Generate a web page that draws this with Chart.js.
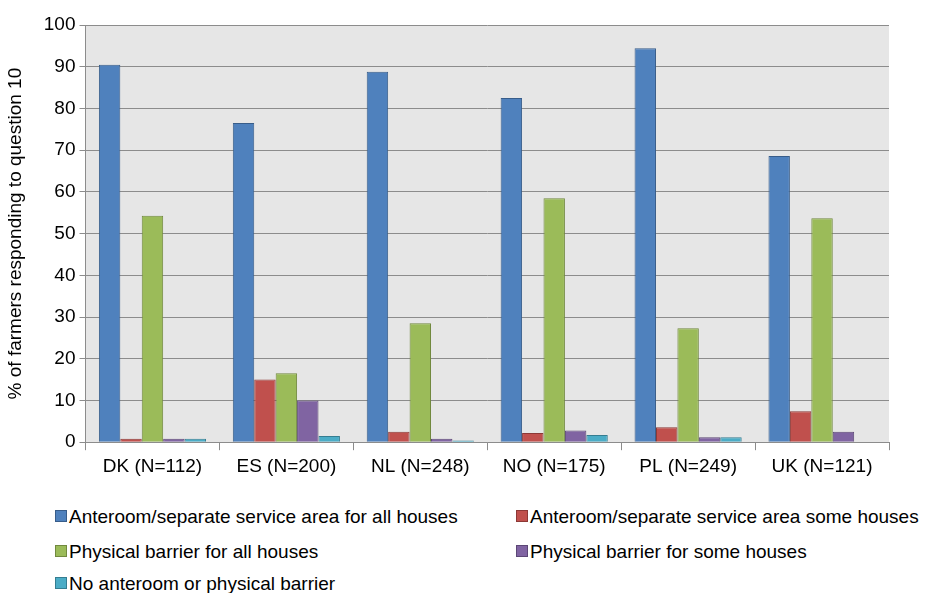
<!DOCTYPE html>
<html>
<head>
<meta charset="utf-8">
<script src="https://cdn.jsdelivr.net/npm/chart.js@4"></script>
<style>
  body { margin: 0; background: #fff; font-family: "Liberation Sans", Arial, sans-serif; }
  #wrap { position: relative; width: 925px; height: 593px; }
  #grafico { position: absolute; left: 0; top: 0; }
  .leg { position: absolute; font-size: 19px; color: #000; white-space: nowrap; line-height: 22px; }
  .leg span { display: inline-block; width: 10px; height: 10px; border: 1px solid; margin-right: 2px; vertical-align: 1px; }
</style>
</head>
<body>
<div id="wrap">
  <canvas id="grafico" width="925" height="483"></canvas>
  <div id="legenda"></div>
</div>
<script>
const categorias = ["DK (N=112)", "ES (N=200)", "NL (N=248)", "NO (N=175)", "PL (N=249)", "UK (N=121)"];
const series = [
  "Anteroom/separate service area for all houses",
  "Anteroom/separate service area some houses",
  "Physical barrier for all houses",
  "Physical barrier for some houses",
  "No anteroom or physical barrier"
];
const anteroomTodas = [90.5, 76.5, 88.8, 82.5, 94.4, 68.6];
const anteroomAlgumas = [0.8, 15.0, 2.5, 2.2, 3.6, 7.4];
const barreiraTodas = [54.3, 16.5, 28.5, 58.5, 27.3, 53.7];
const barreiraAlgumas = [0.8, 10.0, 0.8, 2.8, 1.2, 2.5];
const nenhum = [0.8, 1.5, 0.4, 1.7, 1.2, 0];
const yTicks = [0, 10, 20, 30, 40, 50, 60, 70, 80, 90, 100];

const cores = ["#4f81bd", "#c0504d", "#9bbb59", "#8064a2", "#4bacc6"];
const bordas = ["#385d8a", "#8c3836", "#71893f", "#5c4776", "#357d91"];
const valores = [anteroomTodas, anteroomAlgumas, barreiraTodas, barreiraAlgumas, nenhum];

const fundoPlot = {
  id: "fundoPlot",
  beforeDraw(chart) {
    const a = chart.chartArea;
    const ctx = chart.ctx;
    ctx.save();
    ctx.fillStyle = "#e6e6e6";
    ctx.fillRect(a.left, a.top, a.right - a.left, a.bottom - a.top);
    ctx.restore();
  }
};

const dados = {
  labels: categorias,
  datasets: series.map((nome, i) => ({
    label: nome,
    data: valores[i],
    backgroundColor: cores[i],
    borderColor: bordas[i],
    borderWidth: 1,
    categoryPercentage: 0.8,
    barPercentage: 1.0
  }))
};

const grafico = new Chart(document.getElementById("grafico"), {
  type: "bar",
  data: dados,
  options: {
    animation: false,
    responsive: false,
    layout: { padding: { top: 25, right: 36, left: 4, bottom: 0 } },
    plugins: { legend: { display: false }, tooltip: { enabled: false } },
    scales: {
      x: {
        grid: { drawOnChartArea: false, drawTicks: true, tickLength: 8, color: "#8c8c8c", offset: true },
        border: { color: "#8c8c8c" },
        ticks: { color: "#000", font: { family: "Liberation Sans", size: 19 }, padding: 5 }
      },
      y: {
        min: 0,
        max: 100,
        afterBuildTicks: (eixo) => { eixo.ticks = yTicks.map((v) => ({ value: v })); },
        grid: { color: "#8c8c8c", tickLength: 6 },
        border: { color: "#8c8c8c" },
        ticks: { color: "#000", font: { family: "Liberation Sans", size: 19 }, padding: 4 },
        title: {
          display: true,
          text: "% of farmers responding to question 10",
          color: "#000",
          font: { family: "Liberation Sans", size: 19 },
          padding: { top: 0, bottom: 13 }
        }
      }
    }
  },
  plugins: [fundoPlot]
});

// legenda em duas colunas
const posicoes = [[55, 506], [516, 506], [55, 541], [516, 541], [55, 573]];
const legenda = document.getElementById("legenda");
series.forEach((nome, i) => {
  const d = document.createElement("div");
  d.className = "leg";
  d.style.left = posicoes[i][0] + "px";
  d.style.top = posicoes[i][1] + "px";
  d.innerHTML = `<span style="background:${cores[i]};border-color:${bordas[i]}"></span>${nome}`;
  legenda.appendChild(d);
});
</script>
</body>
</html>
